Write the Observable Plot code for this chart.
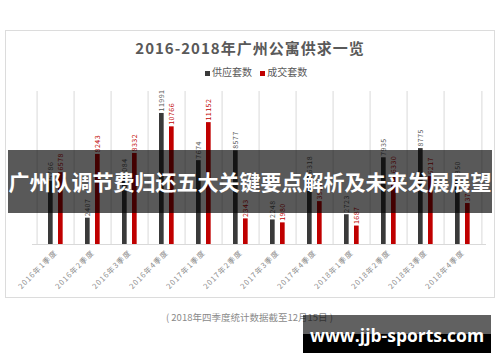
<!DOCTYPE html>
<html><head><meta charset="utf-8">
<script src="https://cdn.jsdelivr.net/npm/d3@7"></script>
<script src="https://cdn.jsdelivr.net/npm/@observablehq/plot@0.6"></script>
<style>
body{margin:0;background:#fff;font-family:"Noto Sans CJK SC","Noto Sans",sans-serif;}
#wrap{position:relative;width:500px;height:362px;overflow:hidden;background:#fff;}
.abs{position:absolute;}
</style></head><body>
<div id="wrap">
  <div class="abs" style="left:5px;top:30px;width:488px;height:266px;border:1px solid #dcdcdc;"></div>
  <div id="chart" class="abs" style="left:0;top:0;"></div>
  <div class="abs" style="left:0;top:37px;width:500px;text-align:center;font-size:15px;font-weight:700;color:#595959;letter-spacing:1px;">2016-2018年广州公寓供求一览</div>
  <div class="abs" style="left:205px;top:64px;font-size:10px;color:#595959;white-space:nowrap;">
    <span style="display:inline-block;width:5px;height:5px;background:#3a3a3a;margin-right:2px;vertical-align:middle;"></span>供应套数
    <span style="display:inline-block;width:5px;height:5px;background:#c00000;margin:0 2px 0 6px;vertical-align:middle;"></span>成交套数
  </div>
  <div class="abs" style="left:166px;top:310px;font-size:9.5px;color:#8a8a8a;white-space:nowrap;">( 2018年四季度统计数据截至12月15日 )</div>
  <div class="abs" style="left:8px;top:150px;width:484px;height:63px;background:rgba(0,0,0,0.65);"></div>
  <div class="abs" style="left:0;top:150px;width:500px;height:63px;color:#fff;font-size:21px;font-weight:700;line-height:63px;text-align:center;white-space:nowrap;">广州队调节费归还五大关键要点解析及未来发展展望</div>
  <div class="abs" style="left:303px;top:315px;width:188px;height:19px;background:rgba(0,0,0,0.62);"></div>
  <div class="abs" style="left:303px;top:334px;width:188px;height:19px;background:#000;"></div>
  <div class="abs" style="left:303px;top:323px;width:188px;text-align:center;font-family:'Open Sans',sans-serif;font-weight:700;font-size:17.5px;color:#fff;white-space:nowrap;line-height:24px;">www.jjb-sports.com</div>
</div>
<script>
const quarters = ["2016年1季度","2016年2季度","2016年3季度","2016年4季度","2017年1季度","2017年2季度","2017年3季度","2017年4季度","2018年1季度","2018年2季度","2018年3季度","2018年4季度"];
const supply = [5786, 2407, 6084, 11991, 7674, 8577, 2248, 6318, 2723, 7935, 8775, 5850];
const deals  = [6578, 8243, 8332, 10766, 11152, 2343, 1980, 3926, 1687, 6330, 6217, 3748];

const supplyData = quarters.map((q, i) => ({q, v: supply[i]}));
const dealData = quarters.map((q, i) => ({q, v: deals[i]}));

const W = 500, H = 362, mL = 32, mR = 14;
const bw = (W - mL - mR) / quarters.length;

const chart = Plot.plot({
  width: W, height: H,
  marginLeft: mL, marginRight: mR, marginTop: 91, marginBottom: 118,
  style: {fontFamily: '"Noto Sans CJK SC", sans-serif', background: "transparent"},
  x: {domain: quarters, padding: 0, axis: null, label: null},
  y: {domain: [0, 14000], axis: null, label: null},
  marks: [
    Plot.ruleX(quarters, {x: d => d, y1: 0, y2: 14000, dx: -bw / 2, stroke: "#d9d9d9", strokeWidth: 1}),
    Plot.ruleX([quarters[quarters.length - 1]], {x: d => d, y1: 0, y2: 14000, dx: bw / 2, stroke: "#d9d9d9", strokeWidth: 1}),
    Plot.ruleY([0], {stroke: "#d9d9d9"}),
    Plot.barY(supplyData, {x: "q", y: "v", fill: "#3a3a3a", insetLeft: 11, insetRight: bw - 16.5}),
    Plot.barY(dealData, {x: "q", y: "v", fill: "#c00000", insetLeft: 21, insetRight: bw - 26.5}),
    Plot.text(supplyData, {x: "q", y: "v", text: d => String(d.v), rotate: -90, textAnchor: "start", dx: -5.2, dy: -2, fontSize: 7, fill: "#595959"}),
    Plot.text(dealData, {x: "q", y: "v", text: d => String(d.v), rotate: -90, textAnchor: "start", dx: 4.8, dy: -2, fontSize: 7, fill: "#c00000"}),
    Plot.axisX({tickRotate: -45, tickSize: 0, tickPadding: 7, fontSize: 7.5, color: "#8c8c8c", label: null})
  ]
});
d3.select(chart).selectAll('[aria-label="x-axis tick label"] text').style("letter-spacing", "1px");
d3.select(chart).selectAll('text').filter(function(){return this.parentNode.getAttribute("aria-label")==="text";}).style("letter-spacing","0.5px");
document.getElementById("chart").appendChild(chart);
</script>
</body></html>
